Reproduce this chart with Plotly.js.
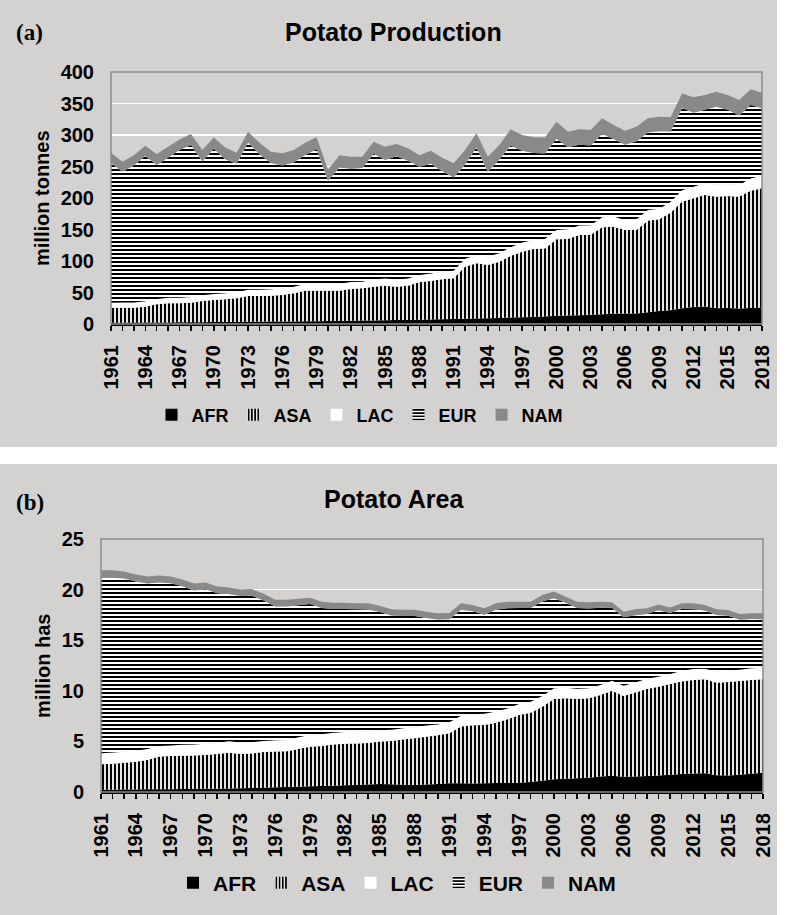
<!DOCTYPE html>
<html>
<head>
<meta charset="utf-8">
<script src="https://cdn.plot.ly/plotly-3.0.1.min.js"></script>
<style>html,body{margin:0;padding:0;background:#fff;}#chart{width:788px;height:915px;}</style>
</head>
<body>
<div id="chart"></div>
<script>
// ---------- DATA ----------
const years = [1961,1962,1963,1964,1965,1966,1967,1968,1969,1970,
  1971,1972,1973,1974,1975,1976,1977,1978,1979,1980,
  1981,1982,1983,1984,1985,1986,1987,1988,1989,1990,
  1991,1992,1993,1994,1995,1996,1997,1998,1999,2000,
  2001,2002,2003,2004,2005,2006,2007,2008,2009,2010,
  2011,2012,2013,2014,2015,2016,2017,2018];
const tickYears = [1961,1964,1967,1970,1973,1976,1979,1982,1985,1988,1991,1994,1997,2000,2003,2006,2009,2012,2015,2018];
const regions = ['AFR','ASA','LAC','EUR','NAM'];

// Production, million tonnes
const prodAFR = [2.0,2.1,2.2,2.3,2.4,2.5,2.6,2.7,2.8,3.0, 3.1,3.3,3.4,3.6,3.8,4.0,4.1,4.3,4.5,4.6, 4.9,5.2,5.4,5.7,6.0,6.3,6.5,6.8,7.2,7.6, 8.0,8.3,8.7,9.0,9.6,10.4,10.8,11.3,12.0,13.2, 13.5,13.8,14.5,15.5,16.2,16.5,16.8,18.8,20.5,22.0, 25.0,27.0,27.8,25.0,25.3,24.8,25.5,26.0];
const prodASA = [23.9,23.8,23.7,25.2,28.8,30.3,30.2,31.2,33.7,35.1, 36.1,37.4,41.0,40.8,41.2,42.0,44.6,48.6,48.4,48.3, 48.0,50.4,51.2,53.6,54.8,53.0,54.3,59.3,61.1,63.3, 64.5,82.7,87.6,84.7,89.4,97.6,104.0,107.7,108.0,121.2, 121.5,127.5,126.8,137.9,138.3,132.7,132.4,145.2,145.6,154.7, 169.2,172.5,177.0,177.0,177.9,177.2,186.1,189.3];
const prodLAC = [8.0,8.2,8.3,8.5,8.6,8.8,9.0,9.1,9.3,9.5, 9.6,9.7,9.8,10.0,10.2,10.3,10.4,10.5,10.6,10.5, 10.8,11.0,10.5,11.2,11.5,11.4,11.6,11.8,12.0,12.0, 12.2,12.5,13.0,13.3,13.5,14.0,14.5,14.2,14.8,15.0, 15.2,15.0,15.5,16.0,16.2,16.0,16.5,17.0,16.8,17.0, 18.0,18.5,18.8,19.0,19.2,18.8,19.5,20.0];
const prodEUR = [221.5,207.5,217.3,230.5,212.5,222.4,234.2,241.1,212.2,230.4, 212.7,204.1,233.8,214.9,200.3,195.2,197.4,204.9,213.8,164.1, 184.8,180.0,180.5,199.9,188.2,195.5,186.9,171.6,174.2,159.6, 147.8,149.5,170.9,134.6,148.5,161.0,145.7,138.1,135.7,144.6, 130.3,128.2,126.7,132.1,122.8,119.2,124.0,123.0,123.1,111.8, 130.8,117.3,116.4,123.8,117.6,110.3,116.4,107.2];
const prodNAM = [16.5,16.0,16.5,16.5,17.5,17.5,17.0,17.5,18.0,18.0, 18.5,17.5,17.0,18.5,18.0,19.5,19.5,19.5,19.0,17.5, 19.5,19.0,18.0,19.0,21.0,19.5,19.5,18.5,20.5,21.5, 22.5,23.0,22.5,24.0,23.0,26.0,25.0,25.0,25.5,27.0, 24.5,24.5,24.5,25.0,22.5,22.5,23.5,22.5,23.0,22.5, 23.0,24.5,23.5,24.0,23.5,24.5,25.0,24.5];

// Area, million ha
const areaAFR = [0.22,0.23,0.24,0.25,0.26,0.27,0.28,0.29,0.30,0.32, 0.33,0.35,0.37,0.40,0.43,0.46,0.50,0.53,0.56,0.60, 0.62,0.66,0.70,0.74,0.78,0.76,0.72,0.70,0.74,0.80, 0.86,0.86,0.85,0.86,0.88,0.90,0.92,1.00,1.12,1.25, 1.30,1.35,1.42,1.52,1.61,1.50,1.52,1.58,1.64,1.70, 1.78,1.84,1.85,1.66,1.64,1.70,1.80,1.91];
const areaASA = [2.51,2.57,2.66,2.75,2.90,3.23,3.27,3.29,3.30,3.34, 3.42,3.54,3.38,3.40,3.52,3.54,3.52,3.72,3.92,3.95, 4.08,4.12,4.10,4.11,4.22,4.29,4.48,4.60,4.73,4.80, 4.94,5.60,5.74,5.76,5.97,6.28,6.68,6.84,7.31,7.94, 7.96,7.84,7.84,8.06,8.39,7.99,8.30,8.60,8.76,8.97, 9.15,9.23,9.28,9.14,9.23,9.27,9.27,9.22];
const areaLAC = [1.10,1.10,1.08,1.08,1.10,1.05,1.05,1.08,1.10,1.10, 1.10,1.12,1.15,1.12,1.10,1.12,1.12,1.15,1.15,1.15, 1.15,1.15,1.12,1.12,1.10,1.10,1.10,1.12,1.10,1.08, 1.10,1.08,1.10,1.12,1.10,1.08,1.10,1.08,1.05,1.05, 1.05,1.02,1.00,1.00,1.00,1.00,1.00,1.00,1.00,1.00, 1.05,1.08,1.05,1.10,1.10,1.10,1.15,1.15];
const areaEUR = [17.35,17.28,17.12,16.72,16.34,16.15,16.02,15.66,15.22,15.28, 14.79,14.55,14.46,14.47,13.87,13.22,13.20,13.06,12.95,12.48, 12.23,12.15,12.13,12.06,11.68,11.30,11.10,10.98,10.63,10.36, 10.16,10.46,10.17,9.77,10.05,9.89,9.47,9.27,9.35,8.90, 8.39,7.98,7.88,7.63,7.18,6.77,6.65,6.41,6.56,6.01, 6.10,5.91,5.76,5.59,5.45,4.96,4.88,4.80];
const areaNAM = [0.72,0.72,0.70,0.70,0.70,0.70,0.68,0.68,0.68,0.66, 0.66,0.64,0.64,0.66,0.68,0.66,0.66,0.64,0.62,0.62, 0.62,0.62,0.60,0.62,0.62,0.60,0.60,0.60,0.62,0.62, 0.64,0.64,0.62,0.64,0.64,0.66,0.64,0.62,0.64,0.66, 0.60,0.62,0.60,0.60,0.56,0.56,0.58,0.56,0.58,0.54, 0.56,0.58,0.54,0.56,0.56,0.56,0.56,0.58];

// ---------- STYLE ----------
const W = 788, H = 915;
const px = x => x / W;
const py = y => 1 - y / H;
const FONT = 'Liberation Sans, Arial, sans-serif';
const SERIF = 'Liberation Serif, Times New Roman, serif';
const BG = '#d4d2d1';
const NAMGRAY = '#898989';

const styles = {
  AFR: {fillcolor: '#000000'},
  ASA: {fillcolor: '#ffffff', fillpattern: {shape: '|', fgcolor: '#000000', bgcolor: '#ffffff', size: 4, solidity: 0.55}},
  LAC: {fillcolor: '#ffffff'},
  EUR: {fillcolor: '#ffffff', fillpattern: {shape: '-', fgcolor: '#000000', bgcolor: '#ffffff', size: 4, solidity: 0.5}},
  NAM: {fillcolor: NAMGRAY}
};

const prodSeries = {AFR: prodAFR, ASA: prodASA, LAC: prodLAC, EUR: prodEUR, NAM: prodNAM};
const areaSeries = {AFR: areaAFR, ASA: areaASA, LAC: areaLAC, EUR: areaEUR, NAM: areaNAM};

const traces = [];
function addPanel(series, xa, ya, group, legendId) {
  regions.forEach(r => {
    const t = {
      type: 'scatter', x: years, y: series[r], xaxis: xa, yaxis: ya,
      stackgroup: group, mode: 'none', fillcolor: styles[r].fillcolor,
      line: {width: 0}, showlegend: false, hoverinfo: 'x+y', name: r
    };
    if (styles[r].fillpattern) t.fillpattern = styles[r].fillpattern;
    traces.push(t);
  });
  // legend entries (square swatches)
  regions.forEach(r => {
    const m = {color: styles[r].fillcolor, line: {width: 0}};
    if (styles[r].fillpattern) m.pattern = styles[r].fillpattern;
    traces.push({
      type: 'bar', x: [null], y: [null], xaxis: xa, yaxis: ya, name: r,
      marker: m, showlegend: true, legend: legendId, hoverinfo: 'skip'
    });
  });
}
addPanel(prodSeries, 'x', 'y', 'prod', 'legend');
addPanel(areaSeries, 'x2', 'y2', 'area', 'legend2');

const tickFont = {family: FONT, size: 20, color: '#000', weight: 700};
function xAxis(domain, anchor) {
  return {
    domain: domain, anchor: anchor, type: 'linear', range: [1961, 2018],
    tickmode: 'array', tickvals: tickYears, ticktext: tickYears.map(String),
    tickangle: -90, tickfont: tickFont,
    ticks: 'outside', ticklen: 5, tickwidth: 1.5, tickcolor: '#000',
    minor: {tickmode: 'array', tickvals: years, ticks: 'outside', ticklen: 5, tickwidth: 1.5, tickcolor: '#000', showgrid: false},
    showgrid: false, zeroline: false, showline: true, linecolor: '#000', linewidth: 2,
    ticklabelstandoff: 6, fixedrange: true
  };
}
function yAxis(domain, anchor, range, dtick) {
  return {
    domain: domain, anchor: anchor, range: range, dtick: dtick, tick0: 0,
    tickfont: tickFont, ticks: '', showgrid: true, gridcolor: '#ffffff', gridwidth: 1.5,
    zeroline: false, showline: false, ticklabelstandoff: 16, fixedrange: true
  };
}

const layout = {
  width: W, height: H, margin: {l: 0, r: 0, t: 0, b: 0},
  paper_bgcolor: '#ffffff', plot_bgcolor: BG,
  font: {family: FONT, color: '#000'},
  barmode: 'overlay',
  xaxis: xAxis([px(111), px(762)], 'y'),
  yaxis: yAxis([py(324), py(72)], 'x', [0, 400], 50),
  xaxis2: xAxis([px(101), px(763)], 'y2'),
  yaxis2: yAxis([py(792), py(539)], 'x2', [0, 25], 5),
  legend: {orientation: 'h', traceorder: 'normal', x: px(360), y: py(415), xanchor: 'center', yanchor: 'middle',
           bgcolor: 'rgba(0,0,0,0)', font: {family: FONT, size: 18, weight: 700, color: '#000'}, itemclick: false},
  legend2: {orientation: 'h', traceorder: 'normal', x: px(397), y: py(883), xanchor: 'center', yanchor: 'middle',
           bgcolor: 'rgba(0,0,0,0)', font: {family: FONT, size: 21, weight: 700, color: '#000'}, itemclick: false},
  shapes: [
    {type: 'rect', xref: 'paper', yref: 'paper', x0: 0, x1: px(777), y0: py(447), y1: 1, fillcolor: BG, line: {width: 0}, layer: 'below'},
    {type: 'rect', xref: 'paper', yref: 'paper', x0: 0, x1: px(777), y0: 0, y1: py(464), fillcolor: BG, line: {width: 0}, layer: 'below'},
    {type: 'rect', xref: 'x domain', yref: 'y domain', x0: 0, x1: 1, y0: 0, y1: 1, line: {color: '#8c8c8c', width: 1.5}, layer: 'above'},
    {type: 'rect', xref: 'x2 domain', yref: 'y2 domain', x0: 0, x1: 1, y0: 0, y1: 1, line: {color: '#8c8c8c', width: 1.5}, layer: 'above'}
  ],
  annotations: [
    {text: '(a)', xref: 'paper', yref: 'paper', x: px(14), y: py(33), xanchor: 'left', yanchor: 'middle', showarrow: false,
     font: {family: SERIF, size: 23, weight: 700, color: '#000'}},
    {text: 'Potato Production', xref: 'paper', yref: 'paper', x: px(393), y: py(32), xanchor: 'center', yanchor: 'middle', showarrow: false,
     font: {family: FONT, size: 25, weight: 700, color: '#000'}},
    {text: 'million tonnes', xref: 'paper', yref: 'paper', x: px(42), y: py(198), xanchor: 'center', yanchor: 'middle', textangle: -90, showarrow: false,
     font: {family: FONT, size: 20, weight: 700, color: '#000'}},
    {text: '(b)', xref: 'paper', yref: 'paper', x: px(14), y: py(502), xanchor: 'left', yanchor: 'middle', showarrow: false,
     font: {family: SERIF, size: 23, weight: 700, color: '#000'}},
    {text: 'Potato Area', xref: 'paper', yref: 'paper', x: px(394), y: py(499), xanchor: 'center', yanchor: 'middle', showarrow: false,
     font: {family: FONT, size: 25, weight: 700, color: '#000'}},
    {text: 'million has', xref: 'paper', yref: 'paper', x: px(43), y: py(666), xanchor: 'center', yanchor: 'middle', textangle: -90, showarrow: false,
     font: {family: FONT, size: 20, weight: 700, color: '#000'}}
  ]
};

Plotly.newPlot('chart', traces, layout, {displayModeBar: false, staticPlot: true});
</script>
</body>
</html>
